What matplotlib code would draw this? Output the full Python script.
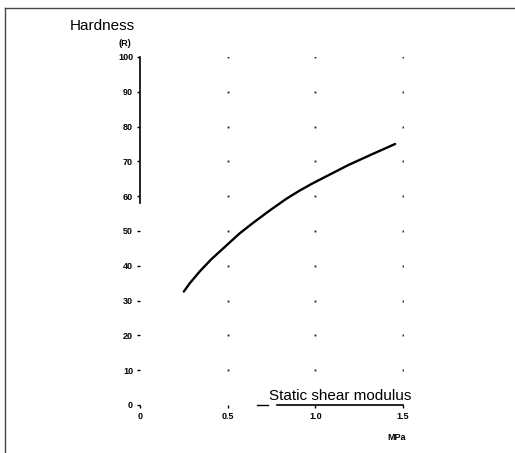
import numpy as np
import matplotlib
matplotlib.use("Agg")
import matplotlib.pyplot as plt
from matplotlib.lines import Line2D

# Data
shear_modulus = [0.25, 0.284, 0.341, 0.407, 0.492, 0.568, 0.644, 0.74, 0.833, 0.91, 0.985, 1.07, 1.19, 1.33, 1.455]
hardness = [32.6, 35.0, 38.4, 41.9, 45.8, 49.3, 52.3, 55.9, 59.2, 61.6, 63.7, 65.9, 69.0, 72.2, 75.0]
x_ticks = [0, 0.5, 1.0, 1.5]
x_tick_labels = ["0", "0.5", "1.0", "1.5"]
y_ticks = [0, 10, 20, 30, 40, 50, 60, 70, 80, 90, 100]
y_tick_labels = ["0", "10", "20", "30", "40", "50", "60", "70", "80", "90", "100"]

plt.rcParams['font.family'] = ['Liberation Sans', 'DejaVu Sans']

fig = plt.figure(figsize=(5.15, 4.53), dpi=100)
ax = fig.add_axes([140/515, 48/453, 263/515, 348/453])
ax.set_xlim(0, 1.5)
ax.set_ylim(0, 100)

# sparse dotted grid at intersections
gx, gy = np.meshgrid(x_ticks[1:], y_ticks[1:])
ax.plot(gx.ravel(), gy.ravel(), ls='none', marker='s', ms=1.4, color='#333333', mew=0)

ax.plot(shear_modulus, hardness, color='black', lw=1.7, solid_capstyle='round', solid_joinstyle='round')

for s in ax.spines.values():
    s.set_visible(False)
# partial left axis line
ax.plot([0, 0], [58, 100], color='black', lw=1.2, clip_on=False)
# partial bottom axis line
ax.plot([0.78, 1.5], [0, 0], color='black', lw=1.2, clip_on=False)
ax.plot([0.67, 0.73], [0, 0], color='black', lw=1.0, clip_on=False)

ax.set_xticks(x_ticks)
ax.set_xticklabels(x_tick_labels, fontsize=6.5, fontweight='bold')
ax.set_yticks(y_ticks)
ax.set_yticklabels(y_tick_labels, fontsize=6.5, fontweight='bold')
ax.tick_params(axis='both', length=2, width=1, color='black', pad=3)

fig.text(70/515, 1 - 26/453, "Hardness", fontsize=11, ha='left', va='center')
fig.text(131/515, 1 - 44/453, "(R)", fontsize=6.5, fontweight='bold', ha='right', va='center')
fig.text(340/515, 1 - 396/453, "Static shear modulus", fontsize=11, ha='center', va='center')
fig.text(397/515, 1 - 437/453, "MPa", fontsize=6.5, fontweight='bold', ha='center', va='center')

# frame around figure
fig.add_artist(Line2D([5/515, 5/515], [0, 1 - 8/453], transform=fig.transFigure, color='#444444', lw=1))
fig.add_artist(Line2D([5/515, 1], [1 - 8/453, 1 - 8/453], transform=fig.transFigure, color='#444444', lw=1))

fig.savefig("out.png", dpi=100)
